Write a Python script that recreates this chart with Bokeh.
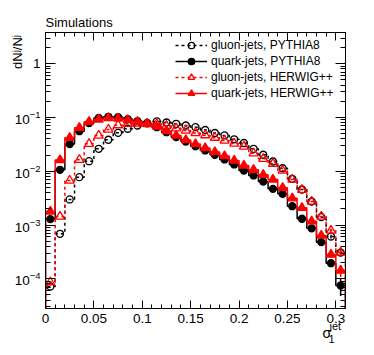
import numpy as np
from bokeh.plotting import figure
from bokeh.models import (Range1d, LogAxis, LinearAxis, SingleIntervalTicker, LogTicker,
                          CustomJSTickFormatter, Label, Legend, LegendItem)
from bokeh.embed import file_html
from bokeh.resources import INLINE

# ---------------- data ----------------
BIN_LOW = 0.0
BIN_WIDTH = 0.01

gluon_pythia8 = [7.2e-5, 6.87e-4, 2.99e-3, 7.77e-3, 0.0154, 0.0262, 0.0386, 0.052, 0.0618, 0.0711,
                 0.0792, 0.0845, 0.0809, 0.0765, 0.0711, 0.0661, 0.0586, 0.0516, 0.0464, 0.0394,
                 0.0336, 0.0262, 0.0203, 0.0152, 0.0114, 0.00725, 0.00458, 0.00274, 0.00140, 0.000612,
                 0.000308]
quark_pythia8 = [1.29e-3, 0.01066, 0.0322, 0.0557, 0.0785, 0.0982, 0.1033, 0.1015, 0.0931, 0.0855,
                 0.0778, 0.0661, 0.0533, 0.0431, 0.0358, 0.0293, 0.0244, 0.0203, 0.0166, 0.0134,
                 0.01035, 0.00836, 0.00646, 0.00472, 0.00381, 0.00224, 0.00131, 0.00087, 0.00048, 0.000195,
                 7.5e-5]
gluon_herwig = [8.65e-5, 1.44e-3, 6.74e-3, 0.0164, 0.0325, 0.0464, 0.060, 0.0721, 0.0765, 0.0775,
                0.0759, 0.0759, 0.0703, 0.0631, 0.0574, 0.0516, 0.0470, 0.0422, 0.0374, 0.0329,
                0.0289, 0.0217, 0.0171, 0.0138, 0.01035, 0.00704, 0.00453, 0.00274, 0.00144, 0.00079,
                0.000308]
quark_herwig = [1.79e-3, 0.0162, 0.0420, 0.0645, 0.0834, 0.092, 0.098, 0.096, 0.090, 0.0834,
                0.0775, 0.0681, 0.0562, 0.0464, 0.0382, 0.0322, 0.0271, 0.0229, 0.0193, 0.0159,
                0.0128, 0.01066, 0.00861, 0.00704, 0.00493, 0.00316, 0.00209, 0.00118, 0.00064, 0.000283,
                0.000143]

gluon_pythia8_err = [0, 0, 0, 0, 0, 0, 0, 0, 0, 0, 0, 0, 0, 0, 0, 0, 0, 0, 0, 0,
                     0, 0, 0, 0, 0, 0, 0, 0, 0, 5e-5, 4e-5]
quark_pythia8_err = [0, 0, 0, 0, 0, 0, 0, 0, 0, 0, 0, 0, 0, 0, 0, 0, 0, 0, 0, 0,
                     0, 0, 0, 0, 0, 0, 0, 0, 4e-5, 3e-5, 2.7e-5]
gluon_herwig_err = [0, 0, 0, 0, 0, 0, 0, 0, 0, 0, 0, 0, 0, 0, 0, 0, 0, 0, 0, 0,
                    0, 0, 0, 0, 0, 0, 0, 0, 0, 6e-5, 4e-5]
quark_herwig_err = [0, 0, 0, 0, 0, 0, 0, 0, 0, 0, 0, 0, 0, 0, 0, 0, 0, 0, 0, 0,
                    0, 0, 0, 0, 0, 0, 0, 0, 5e-5, 4e-5, 3.5e-5]

SERIES_NAMES = ["gluon-jets, PYTHIA8", "quark-jets, PYTHIA8",
                "gluon-jets, HERWIG++", "quark-jets, HERWIG++"]
XTICKS = [0.0, 0.05, 0.1, 0.15, 0.2, 0.25, 0.3]
XTICK_LABELS = ["0", "0.05", "0.1", "0.15", "0.2", "0.25", "0.3"]
TITLE = "Simulations"
Y_LABEL = "dN\u02B2/N\u02B2"
X_LABEL_MAIN = "\u03C3"
X_LABEL_SUB = "1"
X_LABEL_SUP = "jet"

# ---------------- figure ----------------
XMIN, XMAX = 0.0, 0.31
YMIN, YMAX = 2.8e-5, 3.82
FONT = "Liberation Sans"

p = figure(width=374, height=355, title=None,
           x_range=Range1d(XMIN, XMAX), y_range=Range1d(YMIN, YMAX),
           y_axis_type="log", output_backend="svg", toolbar_location=None,
           min_border_left=45, min_border_right=29, min_border_top=32, min_border_bottom=47)
p.xgrid.grid_line_color = None
p.ygrid.grid_line_color = None
p.outline_line_color = "black"
p.outline_line_width = 1
p.background_fill_color = "white"
p.border_fill_color = "white"

xfmt = CustomJSTickFormatter(args=dict(xt=XTICKS, xl=XTICK_LABELS), code="""
let best = 0, bd = 1e9;
for (let i = 0; i < xt.length; i++) {
  const d = Math.abs(xt[i] - tick);
  if (d < bd) { bd = d; best = i; }
}
return bd < 1e-6 ? xl[best] : "";
""")
empty_fmt = CustomJSTickFormatter(code="return '';")


def style(ax, major, minor, labels=True):
    ax.major_tick_in = major
    ax.major_tick_out = 0
    ax.minor_tick_in = minor
    ax.minor_tick_out = 0
    ax.axis_line_color = "black"
    ax.major_tick_line_color = "black"
    ax.minor_tick_line_color = "black"
    ax.major_label_text_font = FONT
    ax.major_label_text_font_size = "13.5px"
    ax.major_label_text_color = "black"
    ax.major_label_standoff = 5 if labels else 0


xax = p.xaxis[0]
xax.ticker = SingleIntervalTicker(interval=0.05, num_minor_ticks=5)
xax.formatter = xfmt
style(xax, 8, 4)

yax = p.yaxis[0]
yax.ticker = LogTicker(num_minor_ticks=10)
yax.major_label_overrides = {1: "1"}
style(yax, 10, 5)

top = LinearAxis(ticker=SingleIntervalTicker(interval=0.05, num_minor_ticks=5), formatter=empty_fmt)
style(top, 8, 4, labels=False)
top.major_label_text_font_size = "0px"
p.add_layout(top, "above")

right = LogAxis(ticker=LogTicker(num_minor_ticks=10), formatter=empty_fmt)
style(right, 10, 5, labels=False)
right.major_label_text_font_size = "0px"
p.add_layout(right, "right")

# ---------------- histograms ----------------
edges = BIN_LOW + BIN_WIDTH * np.arange(len(quark_pythia8) + 1)
centers = 0.5 * (edges[:-1] + edges[1:])


def step_xy(vals):
    v = np.asarray(vals, dtype=float)
    xs = np.concatenate([[edges[0]], np.repeat(edges, 2)[1:-1], [edges[-1]]])
    ys = np.concatenate([[YMIN], np.repeat(v, 2), [YMIN]])
    return xs, ys


specs = [
    (gluon_pythia8, gluon_pythia8_err, "black", "3 3", "circle", False, 7),
    (quark_pythia8, quark_pythia8_err, "black", "solid", "circle", True, 7),
    (gluon_herwig, gluon_herwig_err, "red", "3 3", "triangle", False, 9),
    (quark_herwig, quark_herwig_err, "red", "solid", "triangle", True, 9),
]

items = []
for name, (vals, errs, col, dash, marker, filled, size) in zip(SERIES_NAMES, specs):
    xs, ys = step_xy(vals)
    lr = p.line(xs, ys, line_color=col, line_width=1.5, line_dash=dash)
    v = np.asarray(vals, dtype=float)
    e = np.asarray(errs, dtype=float)
    m = e > 0
    if m.any():
        p.segment(centers[m], v[m] - e[m], centers[m], v[m] + e[m], line_color=col, line_width=1.5)
    sr = p.scatter(centers, v, marker=marker, size=size, line_color=col, line_width=1.3,
                   fill_color=col if filled else None)
    items.append(LegendItem(label=name, renderers=[lr, sr]))

legend = Legend(items=items, location="top_right", margin=5, padding=6, spacing=0,
                glyph_width=32, glyph_height=16, label_height=16, label_width=129,
                label_standoff=4, label_text_font=FONT, label_text_font_size="12px",
                label_text_color="black", border_line_color=None, background_fill_alpha=0)
p.add_layout(legend)

# ---------------- texts outside the frame (side panels, not clipped) ----------------
p.add_layout(Label(x=XMIN, y=YMAX, y_offset=10, text=TITLE, text_font=FONT,
                   text_font_size="13px", text_align="left", text_baseline="alphabetic",
                   text_color="black"), "above")
# y-axis title: drawn at the upper left of the frame, space reserved in the right panel
p.add_layout(Label(x=XMIN, y=YMAX, x_offset=-28.5, y_offset=-19.5, angle=np.pi / 2, text=Y_LABEL,
                   text_font=FONT, text_font_size="13px", text_align="center",
                   text_baseline="middle", text_color="black"), "right")
p.add_layout(Label(x=XMAX, y=YMIN, x_offset=-23, y_offset=-24, text=X_LABEL_MAIN, text_font=FONT,
                   text_font_size="14px", text_align="left", text_baseline="alphabetic",
                   text_color="black"), "right")
p.add_layout(Label(x=XMAX, y=YMIN, x_offset=-16, y_offset=-17, text=X_LABEL_SUP, text_font=FONT,
                   text_font_size="11px", text_align="left", text_baseline="alphabetic",
                   text_color="black"), "below")
p.add_layout(Label(x=XMAX, y=YMIN, x_offset=-17, y_offset=-30, text=X_LABEL_SUB, text_font=FONT,
                   text_font_size="11px", text_align="left", text_baseline="alphabetic",
                   text_color="black"), "below")

open("out.html", "w").write(file_html(p, INLINE))
